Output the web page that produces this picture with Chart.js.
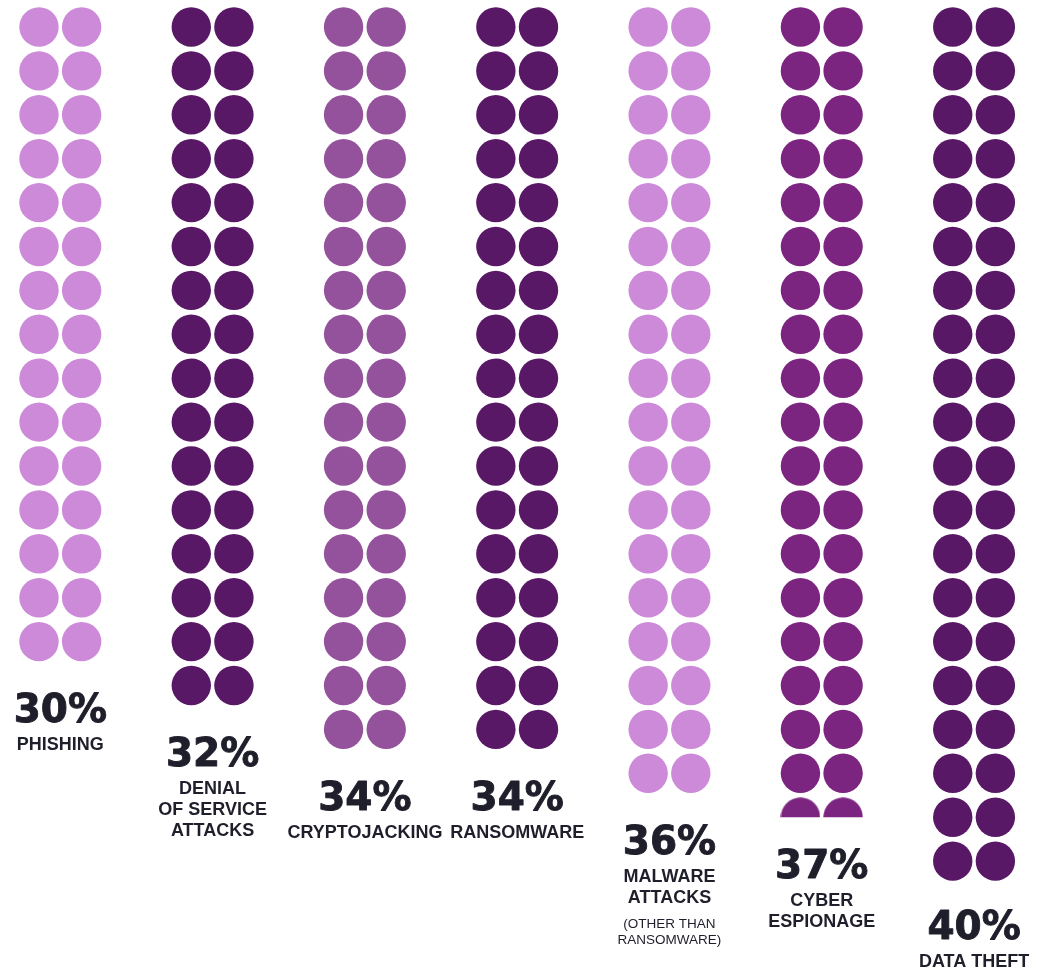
<!DOCTYPE html>
<html>
<head>
<meta charset="utf-8">
<script src="https://cdn.jsdelivr.net/npm/chart.js@4/dist/chart.umd.min.js"></script>
<style>
  html, body { margin: 0; padding: 0; background: #fff; }
  #contenedor { width: 1047px; height: 968px; position: relative; }
</style>
</head>
<body>
<div id="contenedor"><canvas id="graficoAtaques"></canvas></div>
<script>
//Datos - porcentaje de ataques por tipo (cada punto = 1%)
const porcentajes = [30, 32, 34, 34, 36, 37, 40];
const etiquetas = [
    ['PHISHING'],
    ['DENIAL', 'OF SERVICE', 'ATTACKS'],
    ['CRYPTOJACKING'],
    ['RANSOMWARE'],
    ['MALWARE', 'ATTACKS'],
    ['CYBER', 'ESPIONAGE'],
    ['DATA THEFT']
];
const notas = [[], [], [], [], ['(OTHER THAN', 'RANSOMWARE)'], [], []];
const colores = ['#cc8ad9', '#581866', '#94529c', '#581866', '#cc8ad9', '#7b2480', '#581866'];

const RADIO = 19.7;
const SEP = 0.14; // medio espacio entre los dos puntos de cada fila
const colorTexto = '#1f1e2b';

//dos puntos por fila; si sobra 1% se dibujan dos medios puntos
function puntos(valor, col) {
    const pts = [];
    const filas = Math.floor(valor / 2);
    for (let f = 0; f < filas; f++) {
        pts.push({ x: col - SEP, y: f }, { x: col + SEP, y: f });
    }
    if (valor % 2) {
        pts.push({ x: col - SEP, y: filas, medio: true }, { x: col + SEP, y: filas, medio: true });
    }
    return pts;
}

//imagen de medio circulo para usar como pointStyle
function medioPunto(color) {
    const c = document.createElement('canvas');
    c.width = 40;
    c.height = 40;
    const g = c.getContext('2d');
    g.fillStyle = color;
    g.beginPath();
    g.arc(20, 20, RADIO, Math.PI, 2 * Math.PI);
    g.closePath();
    g.fill();
    return c;
}
const medios = colores.map(medioPunto);

//textos debajo de cada columna
const textosColumnas = {
    id: 'textosColumnas',
    afterDatasetsDraw(chart) {
        const { ctx, scales: { x, y } } = chart;
        porcentajes.forEach((v, i) => {
            const filas = Math.floor(v / 2);
            const fondo = v % 2 ? y.getPixelForValue(filas) : y.getPixelForValue(filas - 1) + RADIO;
            const cx = x.getPixelForValue(i);
            let base = fondo + 61;
            // lineas del bloque de texto
            const lineas = [{ t: v + '%', font: 'bold 39px "DejaVu Sans"', y: 0, grueso: true }];
            let yy = 28;
            etiquetas[i].forEach(t => {
                lineas.push({ t: t, font: 'bold 18px "Liberation Sans", Arial', y: yy });
                yy += 21;
            });
            yy += 25.3 - 21;
            notas[i].forEach(t => {
                lineas.push({ t: t, font: '13.5px "Liberation Sans", Arial', y: yy });
                yy += 15.5;
            });
            const ultima = base + lineas[lineas.length - 1].y;
            if (ultima > chart.height - 1.3) base -= ultima - (chart.height - 1.3);
            ctx.save();
            ctx.fillStyle = colorTexto;
            ctx.strokeStyle = colorTexto;
            ctx.lineWidth = 0.9;
            ctx.lineJoin = 'round';
            ctx.textAlign = 'center';
            ctx.textBaseline = 'alphabetic';
            lineas.forEach(l => {
                ctx.font = l.font;
                ctx.fillText(l.t, cx, base + l.y);
                if (l.grueso) ctx.strokeText(l.t, cx, base + l.y);
            });
            ctx.restore();
        });
    }
};

new Chart(document.getElementById('graficoAtaques'), {
    type: 'scatter',
    data: {
        datasets: porcentajes.map((v, i) => ({
            label: etiquetas[i].join(' '),
            data: puntos(v, i),
            backgroundColor: colores[i],
            borderWidth: 0,
            pointRadius: RADIO,
            pointHoverRadius: RADIO,
            pointStyle: ctx => (ctx.raw && ctx.raw.medio) ? medios[i] : 'circle'
        }))
    },
    options: {
        responsive: true,
        maintainAspectRatio: false,
        animation: false,
        events: [],
        layout: { padding: 0, autoPadding: false },
        plugins: {
            legend: { display: false },
            tooltip: { enabled: false }
        },
        scales: {
            x: { type: 'linear', display: false, min: -0.396, max: 6.479 },
            y: { type: 'linear', display: false, reverse: true, min: -0.615, max: 21.435 }
        }
    },
    plugins: [textosColumnas]
});
</script>
</body>
</html>
